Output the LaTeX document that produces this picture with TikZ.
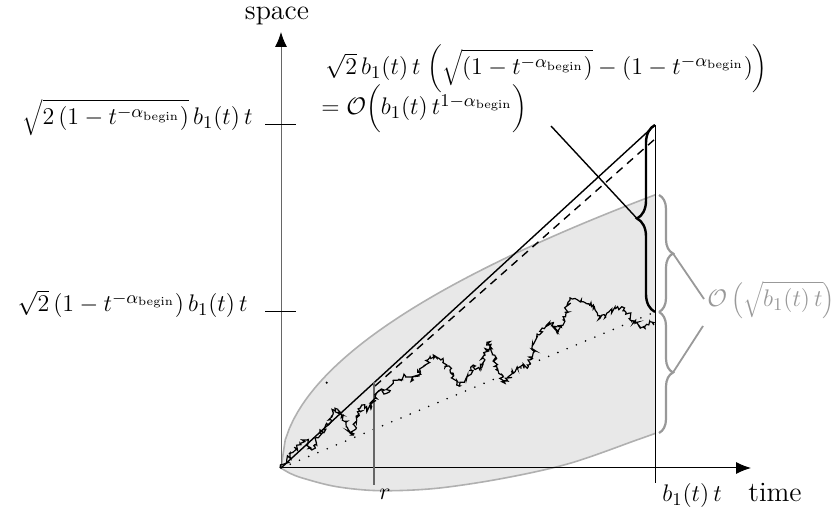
\documentclass[tikz,border=0pt]{standalone}
\usetikzlibrary{arrows.meta,decorations.pathreplacing,decorations.pathmorphing}
\definecolor{regionfill}{HTML}{E8E8E8}
\definecolor{regionline}{HTML}{B0B0B0}
\definecolor{bracegray}{HTML}{999999}
\definecolor{axisgray}{HTML}{666666}
\begin{document}
\begin{tikzpicture}[x=0.5pt,y=-0.5pt,
  font=\fontsize{14}{16}\selectfont,
  lbl/.style={inner sep=0pt},
  mlbl/.style={inner sep=0pt, font=\fontsize{12.9}{15}\selectfont},
  axisline/.style={line width=0.5pt},
  tip/.style={-{Latex[length=7.5pt,width=6pt,color=black]}},
  mainline/.style={line width=0.7pt},
  dashline/.style={line width=0.7pt, dash pattern=on 4pt off 3pt},
  dotline/.style={line width=0.9pt, line cap=round, dash pattern=on 0pt off 5pt},
  walk/.style={line width=0.6pt, decorate, decoration={random steps, segment length=0.8pt, amplitude=1.3pt}},
  kbrace/.style={line width=1.2pt, decorate, decoration={brace, amplitude=9pt}},
  gbrace/.style={draw=bracegray, line width=1.1pt, decorate, decoration={brace, amplitude=7pt}},
  gline/.style={draw=bracegray, line width=0.9pt}]
\useasboundingbox (0,0) rectangle (840,512);
\pgfmathsetseed{12}

% key points
\coordinate (O) at (281,468);
\coordinate (Ytop) at (281,32);
\coordinate (Xend) at (751,468);
\coordinate (S) at (655,125);
\coordinate (M) at (655,312);
\coordinate (D) at (655,139);
\coordinate (R) at (374,382);
\coordinate (Rd) at (375,386);
\coordinate (Rb) at (374,485);
\coordinate (Tb) at (655,483);
\coordinate (GU) at (659,195);
\coordinate (GM) at (659,312);
\coordinate (GL) at (659,433);
\coordinate (annA) at (551,126);
\coordinate (tipK) at (637,218.5);
\coordinate (tipU) at (673,253.5);
\coordinate (tipL) at (673,372.5);

% gray region
\fill[regionfill]
  plot[domain=0:374.5, samples=90] ({281+\x},{468-13.6*sqrt(\x)-0.027*\x})
  -- (655.5,433.3)
  -- plot[smooth, tension=0.55] coordinates {(655.5,433.3) (636.7,440) (570,463.3) (503.3,478.3) (436.7,488.3) (380,490.7) (336.7,486.7) (303.3,478.3) (290,473.3) (281,468)}
  -- cycle;
\draw[regionline, line width=0.8pt]
  plot[domain=0:374.5, samples=90] ({281+\x},{468-13.6*sqrt(\x)-0.027*\x});
\draw[regionline, line width=0.8pt]
  plot[smooth, tension=0.55] coordinates {(655.5,433.3) (636.7,440) (570,463.3) (503.3,478.3) (436.7,488.3) (380,490.7) (336.7,486.7) (303.3,478.3) (290,473.3) (281,468)};

% axes
\draw[axisline, draw=axisgray, tip] (O) -- (Ytop);
\draw[axisline, tip] (O) -- (Xend);

% lines
\draw[dotline] (O) -- (M);
\draw[mainline] (O) -- (S);
\draw[dashline] (Rd) -- (D);
\draw[line width=0.5pt] (S) -- (Tb);
\draw[line width=0.6pt, draw=axisgray] (R) -- (Rb);

% Brownian path
\draw[walk] plot coordinates {(281,468) (290,456.7) (300,443.3) (306.7,440) (311.7,450) (320,433.3) (328.3,425) (335,408.3) (338,410) (341.7,415) (351.7,435) (356.7,420) (361.7,405) (366.7,410) (371.7,406.7) (375,396.7) (380,390) (386.7,393.3) (393.3,383.3) (403.3,376.7) (413.3,380) (423.3,366.7) (433.3,355) (443.3,361.7) (450,370) (456.7,385) (466.7,378.3) (473.3,365) (480,370) (490,341.7) (496.7,366.7) (505,383.3) (516.7,366.7) (528.3,366.7) (536.7,336.7) (546.7,325) (553.3,323.3) (557.3,333.3) (563.3,320) (570,300) (583.3,301.7) (593.3,305) (600,318.3) (606.7,313.3) (615,308.3) (621.7,306.7) (628.3,313.3) (635,323.3) (645,328.3) (650,321.7) (654,325)};
\fill (326.7,382.7) circle (0.6pt);

% ticks
\draw[axisline] (265,125) -- (296,125);
\draw[axisline] (265,312) -- (296,312);

% braces
\draw[kbrace] (M) -- (S);
\path[gbrace] (GU) -- (GM);
\path[gbrace] (GM) -- (GL);
\draw[line width=0.7pt] (annA) -- (tipK);

% labels
\node[lbl, anchor=base] (space) at (277,20) {space};
\node[lbl, anchor=base] (time) at (775,502) {time};
\node[mlbl, anchor=base] (btlab) at (692,502) {$b_1(t)\,t$};
\node[mlbl, anchor=base] (rlab) at (385,500) {$r$};
\node[mlbl, anchor=base east] (uplab) at (253,125) {$\sqrt{2\,(1-t^{-\alpha_{\mathrm{begin}}})}\,b_1(t)\,t$};
\node[mlbl, anchor=base east] (lowlab) at (248,312) {$\sqrt{2}\,(1-t^{-\alpha_{\mathrm{begin}}})\,b_1(t)\,t$};
\node[mlbl, anchor=base west] (ann1) at (325,75) {$\sqrt{2}\,b_1(t)\,t\;\bigg(\sqrt{(1-t^{-\alpha_{\mathrm{begin}}})}-(1-t^{-\alpha_{\mathrm{begin}}})\bigg)$};
\node[mlbl, anchor=base west] (ann2) at (321,115) {$=\mathcal{O}\bigg(b_1(t)\,t^{1-\alpha_{\mathrm{begin}}}\bigg)$};
\node[inner sep=0pt, font=\fontsize{13}{16}\selectfont, anchor=west, text=bracegray] (olab) at (707,300) {$\mathcal{O}\left(\sqrt{b_1(t)\,t}\right)$};
\draw[gline] (tipU) -- (704,299);
\draw[gline] (tipL) -- (703,326);
\end{tikzpicture}
\end{document}
